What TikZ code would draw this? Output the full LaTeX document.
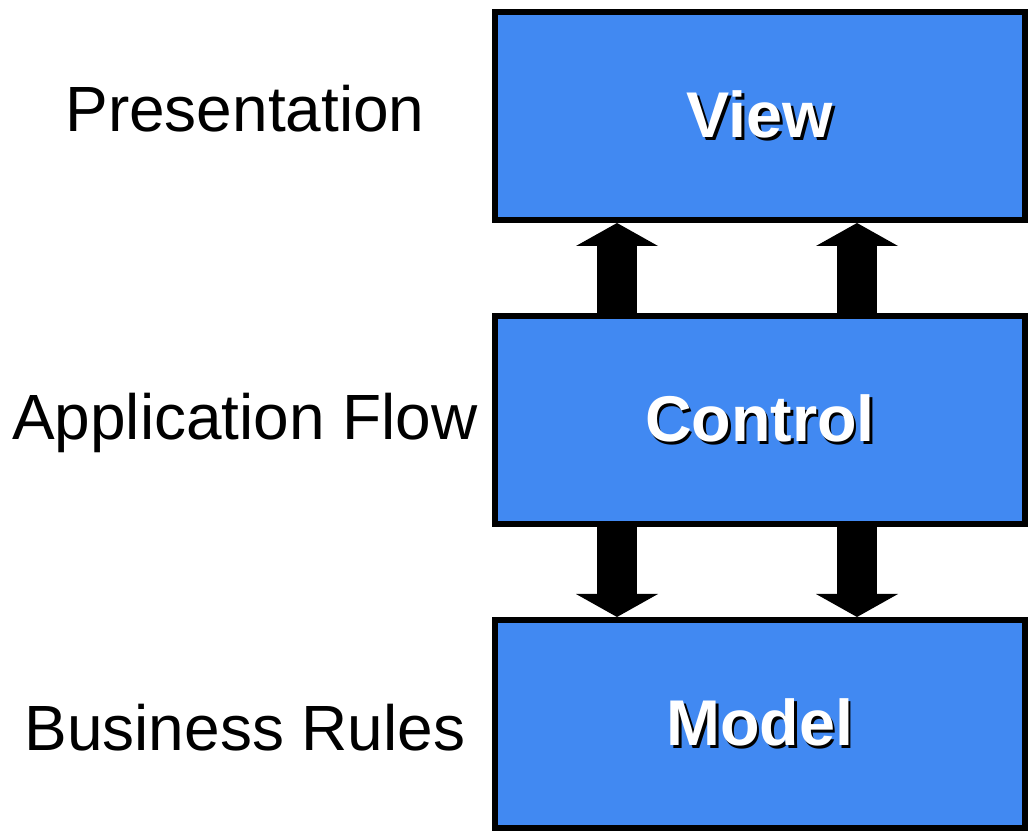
\documentclass[tikz,border=0pt]{standalone}
\usepackage{fontspec}
\setmainfont{Liberation Sans}
\usetikzlibrary{arrows.meta}
\definecolor{mvcblue}{RGB}{65,137,242}
\newcommand{\shadowlabel}[1]{\rlap{\kern0.06cm\raisebox{-0.06cm}{\color{black}#1}}\textcolor{white}{#1}}

\begin{document}
\begin{tikzpicture}[line width=0.15cm,
    mvcbox/.style={draw, fill=mvcblue, minimum width=13.25cm, minimum height=5.2cm, font=\fontsize{46}{55}\selectfont\bfseries},
    layer/.style={anchor=base, font=\fontsize{45.5}{55}\selectfont},
    fatarrow/.style={line width=1cm, -{Triangle[width=2.05cm, length=0.575cm, line width=0pt]}}]
    \useasboundingbox (0, 0) rectangle (25.7, 20.9);

    % BLOCKS
    \node (view) at (19, 18) [mvcbox] {\shadowlabel{View}};
    \node (control) at (19, 10.4) [mvcbox] {\shadowlabel{Control}};
    \node (model) at (19, 2.8) [mvcbox] {\shadowlabel{Model}};

    % LAYER NAMES
    \node (presentation) at (6.125, 17.6) [layer] {Presentation};
    \node (flow) at (6.125, 9.9) [layer] {Application Flow};
    \node (rules) at (6.125, 2.15) [layer] {Business Rules};

    % ARROWS
    % Control up to View
    \draw[fatarrow] ([xshift=-3.575cm]control.north) -- ([xshift=-3.575cm]view.south);
    \draw[fatarrow] ([xshift=2.425cm]control.north) -- ([xshift=2.425cm]view.south);
    % Control down to Model
    \draw[fatarrow] ([xshift=-3.575cm]control.south) -- ([xshift=-3.575cm]model.north);
    \draw[fatarrow] ([xshift=2.425cm]control.south) -- ([xshift=2.425cm]model.north);
\end{tikzpicture}
\end{document}
